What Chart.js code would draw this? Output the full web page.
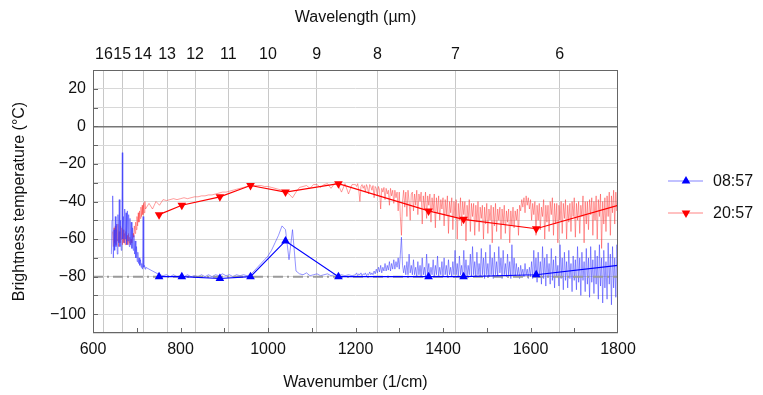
<!DOCTYPE html>
<html><head><meta charset="utf-8">
<script src="https://cdn.jsdelivr.net/npm/chart.js@4/dist/chart.umd.min.js"></script>
<style>html,body{margin:0;padding:0;background:#fff}#wrap{width:763px;height:395px}</style>
</head><body><div id="wrap"><canvas id="c" width="763" height="395"></canvas></div>
<script>
// ---- data ----
const seriesNames = ['08:57', '20:57'];
const markerWavenumbers = [751, 803, 890, 960, 1040, 1161, 1367, 1447, 1613, 1800];
const morningMarkers = [-80, -80, -81, -80, -61, -80, -80, -80, -79, -74];
const eveningMarkers = [-47, -42, -37.5, -31.5, -35, -30.5, -45, -49.5, -54.5, -42];
const wavelengthTicks = [16, 15, 14, 13, 12, 11, 10, 9, 8, 7, 6];
const referenceLevel = -80;

const morningSpectrum = [
 [642,-68],[643.5,-50],[645,-37],[646.5,-70],[648,-55],[649.5,-66],[651,-48],[652.5,-64],[654,-52],[655.5,-68],
 [657,-47],[658.5,-62],[660,-39],[661.5,-64],[663,-50],[664.5,-66],[666,-45],[667,-14],[668,-60],[669.5,-48],
 [671,-62],[672.5,-44],[674,-60],[675.5,-46],[677,-63],[678.5,-45],[680,-61],[681.5,-47],[683,-64],[684.5,-49],
 [686,-63],[687.5,-51],[689,-65],[690.5,-54],[692,-66],[693.5,-58],[695,-68],[696.5,-61],[698,-70],[699.5,-64],
 [701,-72],[702.5,-67],[704,-73],[705.5,-70],[707,-74],[708.5,-71],[710,-75],[711.5,-73],[713,-76],[714.5,-48],
 [716,-75],[717.5,-74],[719,-76],[720.5,-75],
 [728,-76],[736,-77],[744,-78],[752,-79],[760,-79.5],[768,-79],[776,-80],[784,-79],[792,-80],[800,-79.5],
 [808,-80],[816,-79],[824,-80],[832,-79.5],[840,-80],[848,-79],[856,-80],[864,-79],[872,-80],[880,-79],
 [888,-79.5],[896,-78.5],[904,-79.5],[912,-79],[920,-80],[928,-79],[936,-79.5],[944,-79],[952,-79.5],[960,-79],
 [968,-77],[976,-75],[984,-73],[992,-71],[1000,-69],[1008,-66],[1016,-62],[1024,-58],[1032,-53],[1040,-55],
 [1048,-71],[1056,-55],[1064,-77],[1072,-78.5],[1080,-79],[1088,-78],[1096,-79.5],[1104,-79],[1112,-78.5],[1120,-79.5],
 [1128,-79],[1136,-78.5],[1144,-79.5],[1152,-79],[1160,-79.5],[1168,-79],[1176,-79.5],[1184,-79],[1192,-79.5],
 [1200,-79],[1202.5,-78],[1205,-79.5],[1207.5,-78.5],[1210,-79],[1212.5,-78],[1215,-79.5],[1217.5,-78.5],[1220,-79],[1222.5,-78],
 [1225,-79.5],[1227.5,-78.5],[1230,-79],[1232.5,-77.5],[1235,-79],[1237.5,-78],[1240,-79],[1242.5,-77],[1245,-78.5],[1247.5,-76],
 [1250,-78],[1252.5,-75],[1255,-77.5],[1257.5,-74],[1260,-78],[1262.5,-75],[1265,-77],[1267.5,-73],[1270,-77],[1272.5,-74],
 [1275,-76.5],[1277.5,-72],[1280,-77],[1282.5,-73],[1285,-76],[1287.5,-71],[1290,-76],[1292.5,-72],[1295,-75],[1297.5,-70],
 [1300,-76],[1302.5,-68],[1305,-59],[1307.5,-74],[1310,-78],[1312.5,-74],[1315,-79],[1317.5,-72],[1320,-79],[1322.5,-68],
 [1325,-78],[1327.5,-74],[1330,-79],[1332.5,-71],[1335,-79],[1337.5,-75],[1340,-80],[1342.5,-72],[1345,-79],[1347.5,-74],
 [1350,-80],[1352.5,-70],[1355,-79],[1357.5,-75],[1360,-80],[1362.5,-68],[1365,-79],[1367.5,-73],[1370,-80],[1372.5,-75],
 [1375,-79],[1377.5,-71],[1380,-80],[1382.5,-74],[1385,-79],[1387.5,-69],[1390,-80],[1392.5,-75],[1395,-79],[1397.5,-72],
 [1400,-80],[1402.5,-70],[1405,-79],[1407.5,-74],[1410,-80],[1412.5,-71],[1415,-79],[1417.5,-75],[1420,-80],[1422.5,-72],
 [1425,-79],[1427.5,-66],[1430,-79],[1432.5,-73],[1435,-80],[1437.5,-69],[1440,-79],[1442.5,-74],[1445,-80],[1447.5,-66],
 [1450,-79],[1452.5,-71],[1455,-80],[1457.5,-74],[1460,-79],[1462.5,-68],[1465,-80],[1467.5,-64],[1470,-79],[1472.5,-72],
 [1475,-80],[1477.5,-67],[1480,-79],[1482.5,-73],[1485,-80],[1487.5,-65],[1490,-79],[1492.5,-70],[1495,-81],[1497.5,-67],
 [1500,-79],[1502.5,-73],[1505,-80],[1507.5,-63],[1510,-79],[1512.5,-70],[1515,-81],[1517.5,-67],[1520,-79],[1522.5,-72],
 [1525,-80],[1527.5,-64],[1530,-78],[1532.5,-70],[1535,-81],[1537.5,-66],[1540,-79],[1542.5,-73],[1545,-80],[1547.5,-68],
 [1550,-79],[1552.5,-72],[1555,-81],[1557.5,-63],[1560,-79],[1562.5,-70],[1565,-80],[1567.5,-73],[1570,-79],[1572.5,-75],
 [1575,-81],[1577.5,-74],[1580,-79],[1582.5,-76],[1585,-80],[1587.5,-73],[1590,-79],[1592.5,-76],[1595,-81],[1597.5,-75],
 [1600,-80],[1602.5,-72],[1605,-81],[1607.5,-66],[1610,-80],[1612.5,-70],[1615,-83],[1617.5,-67],[1620,-80],[1622.5,-72],
 [1625,-84],[1627.5,-64],[1630,-81],[1632.5,-70],[1635,-85],[1637.5,-68],[1640,-80],[1642.5,-73],[1645,-84],[1647.5,-65],
 [1650,-82],[1652.5,-71],[1655,-86],[1657.5,-69],[1660,-80],[1662.5,-74],[1665,-85],[1667.5,-63],[1670,-81],[1672.5,-70],
 [1675,-87],[1677.5,-67],[1680,-82],[1682.5,-72],[1685,-86],[1687.5,-66],[1690,-81],[1692.5,-73],[1695,-88],[1697.5,-69],
 [1700,-82],[1702.5,-71],[1705,-87],[1707.5,-64],[1710,-83],[1712.5,-70],[1715,-90],[1717.5,-67],[1720,-82],[1722.5,-72],
 [1725,-88],[1727.5,-65],[1730,-84],[1732.5,-70],[1735,-91],[1737.5,-64],[1740,-83],[1742.5,-71],[1745,-89],[1747.5,-66],
 [1750,-84],[1752.5,-69],[1755,-92],[1757.5,-63],[1760,-85],[1762.5,-70],[1765,-94],[1767.5,-66],[1770,-86],[1772.5,-72],
 [1775,-92],[1777.5,-62],[1780,-84],[1782.5,-68],[1785,-95],[1787.5,-64],[1790,-86],[1792.5,-70],[1795,-91],[1797.5,-63],
 [1800,-78]
];

const eveningSpectrum = [
 [645,-56],[646.5,-64],[648,-54],[649.5,-62],[651,-53],[652.5,-63],[654,-55],[655.5,-61],[657,-52],[658.5,-64],
 [660,-56],[661.5,-62],[663,-53],[664.5,-60],[666,-54],[667.5,-63],[669,-55],[670.5,-62],[672,-57],[673.5,-63],
 [675,-56],[676.5,-61],[678,-58],[679.5,-63],[681,-57],[682.5,-62],[684,-59],[685.5,-63],[687,-60],[688.5,-62],
 [690,-60],[691.5,-57],[693,-59],[694.5,-53],[696,-57],[697.5,-51],[699,-55],[700.5,-48],[702,-53],[703.5,-46],
 [705,-51],[706.5,-45],[708,-49],[709.5,-43],[711,-48],[712.5,-42],[714,-47],[715.5,-41],[717,-46],[718.5,-40],
 [720,-44],
 [728,-41],[736,-44],[744,-40],[752,-42],[760,-39],[768,-39.5],[776,-39],[784,-38.5],[792,-39],[800,-38.5],
 [808,-38],[816,-38.5],[824,-38],[832,-37.5],[840,-37.5],[848,-37],[856,-37],[864,-36.5],[872,-36.5],[880,-36],
 [888,-35.5],[896,-35],[904,-35],[912,-34.5],[920,-34],[928,-33.5],[936,-33],[944,-32.5],[952,-32],[960,-31.5],
 [968,-31.5],[976,-31.5],[984,-31.5],[992,-32],[1000,-32],[1008,-32.5],[1016,-33],[1024,-33.5],[1032,-34],[1040,-35],
 [1048,-36],[1056,-38],[1064,-35],[1072,-32.5],[1080,-32],[1088,-31.5],[1096,-33],[1104,-31],[1112,-31],[1120,-32.5],
 [1128,-31],[1136,-30.5],[1144,-33],[1152,-30.5],[1160,-31],[1168,-35],[1176,-30.5],[1184,-36],[1192,-31],
 [1200,-31],[1202.5,-32],[1205,-30.5],[1207.5,-34],[1210,-40],[1212.5,-32],[1215,-31],[1217.5,-33],[1220,-31.5],[1222.5,-35],
 [1225,-31],[1227.5,-32.5],[1230,-36],[1232.5,-31],[1235,-32],[1237.5,-34],[1240,-31.5],[1242.5,-38],[1245,-32],[1247.5,-33],
 [1250,-37],[1252.5,-32],[1255,-34],[1257.5,-44],[1260,-33],[1262.5,-35],[1265,-32.5],[1267.5,-39],[1270,-33],[1272.5,-36],
 [1275,-34],[1277.5,-42],[1280,-33],[1282.5,-37],[1285,-34],[1287.5,-41],[1290,-34],[1292.5,-38],[1295,-35],[1297.5,-45],
 [1300,-35],[1302.5,-48],[1305,-58],[1307.5,-40],[1310,-34],[1312.5,-43],[1315,-35],[1317.5,-48],[1320,-34],[1322.5,-40],
 [1325,-50],[1327.5,-36],[1330,-35],[1332.5,-45],[1335,-36],[1337.5,-42],[1340,-34],[1342.5,-47],[1345,-36],[1347.5,-40],
 [1350,-35],[1352.5,-52],[1355,-37],[1357.5,-44],[1360,-35],[1362.5,-49],[1365,-37],[1367.5,-42],[1370,-36],[1372.5,-51],
 [1375,-38],[1377.5,-45],[1380,-36],[1382.5,-54],[1385,-38],[1387.5,-46],[1390,-37],[1392.5,-50],[1395,-39],[1397.5,-44],
 [1400,-38],[1402.5,-53],[1405,-39],[1407.5,-47],[1410,-37],[1412.5,-57],[1415,-40],[1417.5,-46],[1420,-38],[1422.5,-55],
 [1425,-40],[1427.5,-48],[1430,-39],[1432.5,-60],[1435,-41],[1437.5,-50],[1440,-38],[1442.5,-53],[1445,-40],[1447.5,-47],
 [1450,-40],[1452.5,-61],[1455,-42],[1457.5,-50],[1460,-39],[1462.5,-56],[1465,-41],[1467.5,-48],[1470,-41],[1472.5,-58],
 [1475,-42],[1477.5,-51],[1480,-40],[1482.5,-56],[1485,-43],[1487.5,-49],[1490,-42],[1492.5,-60],[1495,-43],[1497.5,-52],
 [1500,-41],[1502.5,-57],[1505,-44],[1507.5,-50],[1510,-42],[1512.5,-62],[1515,-43],[1517.5,-53],[1520,-41],[1522.5,-56],
 [1525,-44],[1527.5,-50],[1530,-43],[1532.5,-60],[1535,-44],[1537.5,-52],[1540,-42],[1542.5,-57],[1545,-45],[1547.5,-51],
 [1550,-44],[1552.5,-62],[1555,-45],[1557.5,-53],[1560,-43],[1562.5,-54],[1565,-45],[1567.5,-50],[1570,-44],[1572.5,-58],
 [1575,-42],[1577.5,-45],[1580,-39],[1582.5,-43],[1585,-38],[1587.5,-46],[1590,-37],[1592.5,-42],[1595,-38],[1597.5,-44],
 [1600,-39],[1602.5,-50],[1605,-41],[1607.5,-47],[1610,-40],[1612.5,-58],[1615,-42],[1617.5,-50],[1620,-41],[1622.5,-55],
 [1625,-43],[1627.5,-48],[1630,-39],[1632.5,-60],[1635,-42],[1637.5,-51],[1640,-42],[1642.5,-56],[1645,-40],[1647.5,-47],
 [1650,-38],[1652.5,-58],[1655,-41],[1657.5,-52],[1660,-41],[1662.5,-62],[1665,-42],[1667.5,-50],[1670,-40],[1672.5,-57],
 [1675,-41],[1677.5,-49],[1680,-39],[1682.5,-60],[1685,-42],[1687.5,-51],[1690,-41],[1692.5,-56],[1695,-40],[1697.5,-48],
 [1700,-38],[1702.5,-59],[1705,-41],[1707.5,-50],[1710,-40],[1712.5,-57],[1715,-42],[1717.5,-48],[1720,-37],[1722.5,-62],
 [1725,-40],[1727.5,-52],[1730,-40],[1732.5,-55],[1735,-39],[1737.5,-47],[1740,-38],[1742.5,-58],[1745,-40],[1747.5,-50],
 [1750,-37],[1752.5,-60],[1755,-39],[1757.5,-48],[1760,-36],[1762.5,-65],[1765,-40],[1767.5,-52],[1770,-38],[1772.5,-56],
 [1775,-37],[1777.5,-48],[1780,-35],[1782.5,-58],[1785,-37],[1787.5,-46],[1790,-34],[1792.5,-52],[1795,-35],[1797.5,-45],
 [1800,-36]
];

// ---- chart ----
const FONT = "'Liberation Sans', Arial, sans-serif";
const toXY = arr => arr.map(p => ({x: p[0], y: p[1]}));
const markerPts = vals => markerWavenumbers.map((w, i) => ({x: w, y: vals[i]}));
const markerRadius = markerWavenumbers.map((w, i) => i === markerWavenumbers.length - 1 ? 0 : 5);
const minus = v => (v < 0 ? '\u2212' + Math.abs(v) : String(v));

const framePlugin = {
  id: 'frame',
  afterDraw(chart) {
    const {ctx, chartArea: a} = chart;
    ctx.save();
    ctx.strokeStyle = '#666';
    ctx.lineWidth = 1;
    ctx.strokeRect(a.left + 0.5, a.top + 0.5, a.right - a.left - 1, a.bottom - a.top - 1);
    const xs = chart.scales.x;
    for (let v = 700; v < 1800; v += 100) {
      const px = Math.round(xs.getPixelForValue(v)) + 0.5;
      ctx.beginPath(); ctx.moveTo(px, a.bottom); ctx.lineTo(px, a.bottom - 5); ctx.stroke();
    }
    const ys = chart.scales.y;
    for (let v = -100; v <= 20; v += 10) {
      const py = Math.round(ys.getPixelForValue(v)) + 0.5;
      ctx.beginPath(); ctx.moveTo(a.left, py); ctx.lineTo(a.left + 5, py); ctx.stroke();
    }
    const items = [
      {label: seriesNames[0], line: 'rgba(80,80,255,0.7)', fill: '#0000ff', rot: 0, y: 181},
      {label: seriesNames[1], line: 'rgba(255,80,80,0.7)', fill: '#ff0000', rot: 180, y: 213}
    ];
    ctx.font = '16px ' + FONT;
    ctx.textBaseline = 'middle';
    ctx.textAlign = 'left';
    items.forEach(it => {
      ctx.strokeStyle = it.line; ctx.lineWidth = 1.2;
      ctx.beginPath(); ctx.moveTo(668, it.y); ctx.lineTo(703, it.y); ctx.stroke();
      ctx.fillStyle = it.fill;
      Chart.helpers.drawPoint(ctx, {pointStyle: 'triangle', radius: 5, rotation: it.rot, borderWidth: 0}, 686, it.y);
      ctx.fillStyle = '#111';
      ctx.fillText(it.label, 713, it.y + 1);
    });
    ctx.restore();
  }
};

new Chart(document.getElementById('c'), {
  type: 'scatter',
  data: {
    datasets: [
      {label: seriesNames[0], data: markerPts(morningMarkers), showLine: true, borderColor: '#0000ff',
       backgroundColor: '#0000ff', borderWidth: 1.2, pointStyle: 'triangle', pointRadius: markerRadius,
       pointBorderWidth: 0, order: 0},
      {label: seriesNames[1], data: markerPts(eveningMarkers), showLine: true, borderColor: '#ff0000',
       backgroundColor: '#ff0000', borderWidth: 1.2, pointStyle: 'triangle', rotation: 180,
       pointRadius: markerRadius, pointBorderWidth: 0, order: 1},
      {label: 'ref', data: [{x: 600, y: referenceLevel}, {x: 1800, y: referenceLevel}], showLine: true,
       borderColor: '#9a9a9a', borderWidth: 2, borderDash: [10, 4, 2, 4], pointRadius: 0, order: 2},
      {label: 'spec1', data: toXY(morningSpectrum), showLine: true, borderColor: 'rgba(60,60,255,0.55)',
       borderWidth: 1, pointRadius: 0, order: 3},
      {label: 'spec2', data: toXY(eveningSpectrum), showLine: true, borderColor: 'rgba(255,60,60,0.5)',
       borderWidth: 1, pointRadius: 0, order: 4}
    ]
  },
  options: {
    responsive: false,
    animation: false,
    events: [],
    layout: {padding: {right: 145, left: 0, top: 0, bottom: 0}},
    plugins: {legend: {display: false}, tooltip: {enabled: false}},
    scales: {
      x: {
        type: 'linear', position: 'bottom', min: 600, max: 1800,
        ticks: {stepSize: 200, color: '#111', font: {family: FONT, size: 16}, padding: 7,
          callback: (v) => String(v)},
        grid: {drawOnChartArea: false, drawTicks: true, tickLength: 0},
        border: {display: false},
        title: {display: true, text: 'Wavenumber (1/cm)', color: '#111', font: {family: FONT, size: 16}, padding: {top: 0, bottom: 3}},
        afterFit(s) { s.height = 62; }
      },
      x2: {
        type: 'linear', position: 'top', min: 600, max: 1800,
        afterBuildTicks(s) { s.ticks = wavelengthTicks.map(w => ({value: 10000 / w})); },
        ticks: {color: '#111', font: {family: FONT, size: 16}, padding: 6, autoSkip: false, maxRotation: 0,
          callback: (v) => String(Math.round(10000 / v))},
        grid: {drawOnChartArea: true, color: '#c8c8c8', lineWidth: 1, drawTicks: false},
        border: {display: false},
        title: {display: true, text: 'Wavelength (\u00b5m)', color: '#111', font: {family: FONT, size: 16}, padding: {top: 8, bottom: 0}},
        afterFit(s) { s.height = 70; }
      },
      y: {
        min: -110, max: 30,
        ticks: {stepSize: 10, autoSkip: false, color: '#111', font: {family: FONT, size: 16}, padding: 7,
          callback: (v) => (v % 20 === 0 ? minus(v) : '')},
        grid: {color: (c) => (c.tick && c.tick.value === 0 ? '#777' : '#d8d8d8'),
               lineWidth: (c) => (c.tick && c.tick.value === 0 ? 1.6 : 1), drawTicks: false},
        border: {display: false},
        title: {display: true, text: 'Brightness temperature (\u00b0C)', color: '#111', font: {family: FONT, size: 16}, padding: {top: 10, bottom: 0}},
        afterFit(s) { s.width = 93; }
      }
    }
  },
  plugins: [framePlugin]
});
</script>
</body></html>
